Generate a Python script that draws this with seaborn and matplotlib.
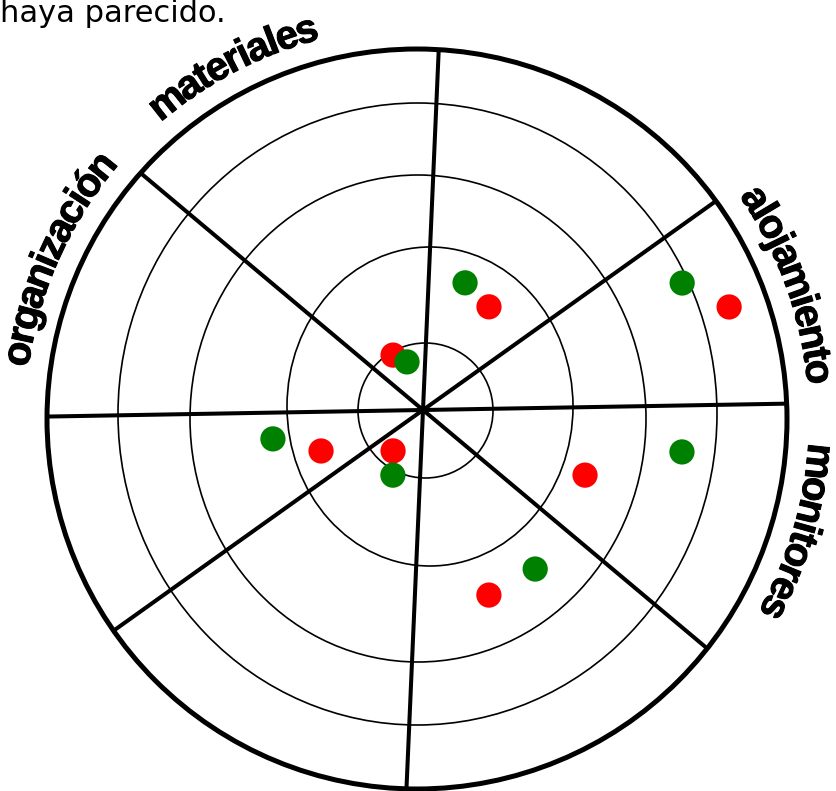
import numpy as np
import pandas as pd
import seaborn as sns
import matplotlib
matplotlib.use("Agg")
import matplotlib.pyplot as plt
import matplotlib.patheffects as pe
from matplotlib.font_manager import FontProperties
from matplotlib.patches import Circle, Ellipse
from matplotlib.transforms import IdentityTransform

# Sector labels (only the ones visible in the crop) and their centre angle (deg)
labels = ["alojamiento", "materiales", "organización", "monitores"]
label_angles = [19.8, 117.5, 156.0, -16.5]

# Radial dividers (deg)
spoke_angles = [1, 35.5, 87.5, 140, 181, 215.5, 267.5, 320]

# Points: angle (deg) and radius (0-100, outer ring = 100)
red_theta = [57.4, 18.6, -21.9, -70.4, 118.6, 201.9, 233.8]
red_r = [33.1, 87.3, 47.2, 53.1, 16.9, 29.7, 13.7]
green_theta = [71.7, 26.1, -9.2, -54.8, 108.4, 190.9, 245.2]
green_r = [36.2, 78.0, 70.9, 52.6, 13.7, 41.3, 19.4]

W, H = 837, 791
# hand drawn rings: centre x, centre y (from top), half width, half height, in pixels
rings = [(425.5, 410.5, 67.5, 67.5), (430, 406.5, 143, 159.5),
         (418, 418.5, 228, 243.5), (417.5, 414, 299.5, 311)]
outer = (417, 419, 370)


def curved_text(fig, text, center_deg, fp, cx, cy, rad, track):
    # characters along a circle, reading clockwise, tops outward
    renderer = fig.canvas.get_renderer()
    widths = [renderer.get_text_width_height_descent(c, fp, ismath=False)[0] * track for c in text]
    total = sum(widths)
    start = np.deg2rad(center_deg) + total / rad / 2
    cum = 0
    for c, w in zip(text, widths):
        th = start - (cum + w / 2) / rad
        fig.text(cx + rad * np.cos(th), cy + rad * np.sin(th), c,
                 transform=IdentityTransform(), rotation=np.rad2deg(th) - 90,
                 rotation_mode="anchor", ha="center", va="baseline",
                 fontproperties=fp, color="black",
                 path_effects=[pe.withStroke(linewidth=0.7, foreground="black")])
        cum += w


def main():
    sns.set_theme(style="white")
    plt.rcParams["font.family"] = ["DejaVu Sans"]

    df = pd.DataFrame({
        "theta": np.deg2rad(red_theta + green_theta),
        "r": red_r + green_r,
        "grupo": ["rojo"] * len(red_r) + ["verde"] * len(green_r),
    })

    fig = plt.figure(figsize=(W / 100, H / 100), dpi=100)
    cx, cy, R = 423, 410, 370
    ax = fig.add_axes([(cx - R) / W, (H - cy - R) / H, 2 * R / W, 2 * R / H], projection="polar")
    ax.set_facecolor("none")
    ax.grid(False)
    ax.set_xticks([])
    ax.set_yticks([])
    ax.spines["polar"].set_visible(False)

    # rings and outer circle in pixel coordinates
    for (ex, ey, rx, ry) in rings:
        ax.add_artist(Ellipse((ex, H - ey), 2 * rx, 2 * ry, transform=IdentityTransform(),
                              fill=False, edgecolor="black", lw=1.2, zorder=1, clip_on=False))
    ox, oy, orad = outer
    ax.add_artist(Circle((ox, H - oy), orad, transform=IdentityTransform(), fill=False,
                         edgecolor="black", lw=3.6, zorder=4, clip_on=False))

    # spokes run from the centre to the outer circle
    d = np.array([cx - ox, -(cy - oy)])
    for a in spoke_angles:
        u = np.array([np.cos(np.deg2rad(a)), np.sin(np.deg2rad(a))])
        b = d @ u
        t = -b + np.sqrt(b * b - (d @ d - orad ** 2))
        ax.plot([np.deg2rad(a)] * 2, [0, t / R * 100], color="black", lw=2.9,
                zorder=2, clip_on=False, solid_capstyle="butt")

    sns.scatterplot(data=df, x="theta", y="r", hue="grupo",
                    palette={"rojo": "#ff0000", "verde": "#008000"},
                    s=330, edgecolor="none", legend=False, ax=ax, zorder=3)
    ax.set_xlabel("")
    ax.set_ylabel("")
    ax.set_ylim(0, 100)

    fp = FontProperties(family="Liberation Sans", weight="bold", size=29)
    fig.canvas.draw()
    for lab, ang in zip(labels, label_angles):
        curved_text(fig, lab, ang, fp, ox, H - oy, 392, 0.9)

    fig.text(0.0, 1 - 22 / H, "haya parecido.", fontsize=22, color="black",
             family="DejaVu Sans", va="baseline", ha="left")

    fig.savefig("out.png", dpi=100, facecolor="white")


if __name__ == "__main__":
    main()
